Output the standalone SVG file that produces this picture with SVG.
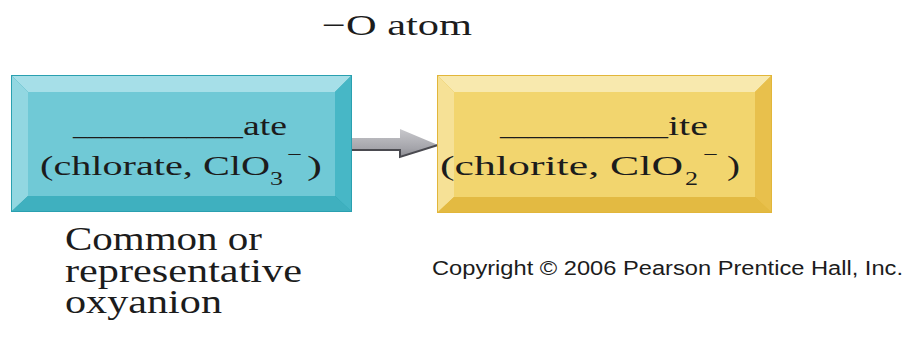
<svg xmlns="http://www.w3.org/2000/svg" width="909" height="349" viewBox="0 0 909 349">
<style>
.t{font-family:"Liberation Serif","DejaVu Serif",serif;fill:#1c1c1c}
.m{font-size:28px}
.s{font-size:19px}
.c{font-family:"Liberation Sans",Arial,sans-serif;font-size:20px;fill:#1c1c1c}
</style>
<defs>
<linearGradient id="shaft" x1="0" y1="0" x2="0" y2="1">
<stop offset="0" stop-color="#c8c8cc"/><stop offset="0.7" stop-color="#a4a4aa"/><stop offset="1" stop-color="#8a8a90"/>
</linearGradient>
</defs>
<rect width="909" height="349" fill="#ffffff"/>
<g id="connectors">
<path d="M352,138 H400 V129 L438,145 L400,157 V150 H352 Z" fill="url(#shaft)"/>
<path d="M352,150 H400 V157 L438,145" fill="none" stroke="#4a4a50" stroke-width="2"/>
</g>
<g id="label-o-atom">
<text class="t" x="322" y="35" font-size="30" textLength="150" lengthAdjust="spacingAndGlyphs">−O atom</text>
</g>
<g id="node-ate">
<rect x="11" y="75" width="341" height="137" fill="#2aa0b0"/>
<polygon points="12,76 351,76 335,92 28,92" fill="#a6dfe8"/>
<polygon points="12,76 28,92 28,196 12,211" fill="#92d7e1"/>
<polygon points="351,76 351,211 335,196 335,92" fill="#47b7c6"/>
<polygon points="12,211 351,211 335,196 28,196" fill="#3fb0bf"/>
<rect x="28" y="92" width="307" height="104" fill="#70c9d6"/>
<text class="t m" y="135"><tspan x="73" textLength="170" lengthAdjust="spacingAndGlyphs">____________</tspan><tspan x="243" textLength="44" lengthAdjust="spacingAndGlyphs">ate</tspan></text>
<text class="t m" y="175"><tspan x="40" textLength="230" lengthAdjust="spacingAndGlyphs">(chlorate, ClO</tspan><tspan class="s" x="270" y="185" textLength="13" lengthAdjust="spacingAndGlyphs">3</tspan><tspan class="s" x="287" y="161" textLength="15" lengthAdjust="spacingAndGlyphs">−</tspan><tspan x="307" y="175" textLength="15" lengthAdjust="spacingAndGlyphs">)</tspan></text>
</g>
<g id="node-ite">
<rect x="437" y="75" width="335" height="138" fill="#e2b63a"/>
<polygon points="438,76 771,76 755,92 454,92" fill="#f8e9ae"/>
<polygon points="438,76 454,92 454,197 438,212" fill="#f6e196"/>
<polygon points="771,76 771,212 755,197 755,92" fill="#e8c04c"/>
<polygon points="438,212 771,212 755,197 454,197" fill="#e3ba42"/>
<rect x="454" y="92" width="301" height="105" fill="#f2d56e"/>
<text class="t m" y="135"><tspan x="500" textLength="168" lengthAdjust="spacingAndGlyphs">____________</tspan><tspan x="668" textLength="40" lengthAdjust="spacingAndGlyphs">ite</tspan></text>
<text class="t m" y="175"><tspan x="440" textLength="243" lengthAdjust="spacingAndGlyphs">(chlorite, ClO</tspan><tspan class="s" x="685" y="185" textLength="13" lengthAdjust="spacingAndGlyphs">2</tspan><tspan class="s" x="703" y="161" textLength="15" lengthAdjust="spacingAndGlyphs">−</tspan><tspan x="727" y="175" textLength="13" lengthAdjust="spacingAndGlyphs">)</tspan></text>
</g>
<g id="label-common">
<text class="t" font-size="33"><tspan x="65" y="250" textLength="197" lengthAdjust="spacingAndGlyphs">Common or</tspan><tspan x="65" y="282" textLength="237" lengthAdjust="spacingAndGlyphs">representative</tspan><tspan x="65" y="313" textLength="157" lengthAdjust="spacingAndGlyphs">oxyanion</tspan></text>
</g>
<g id="copyright">
<text class="c" x="432" y="275" font-size="21" textLength="471" lengthAdjust="spacingAndGlyphs">Copyright © 2006 Pearson Prentice Hall, Inc.</text>
</g>
</svg>
